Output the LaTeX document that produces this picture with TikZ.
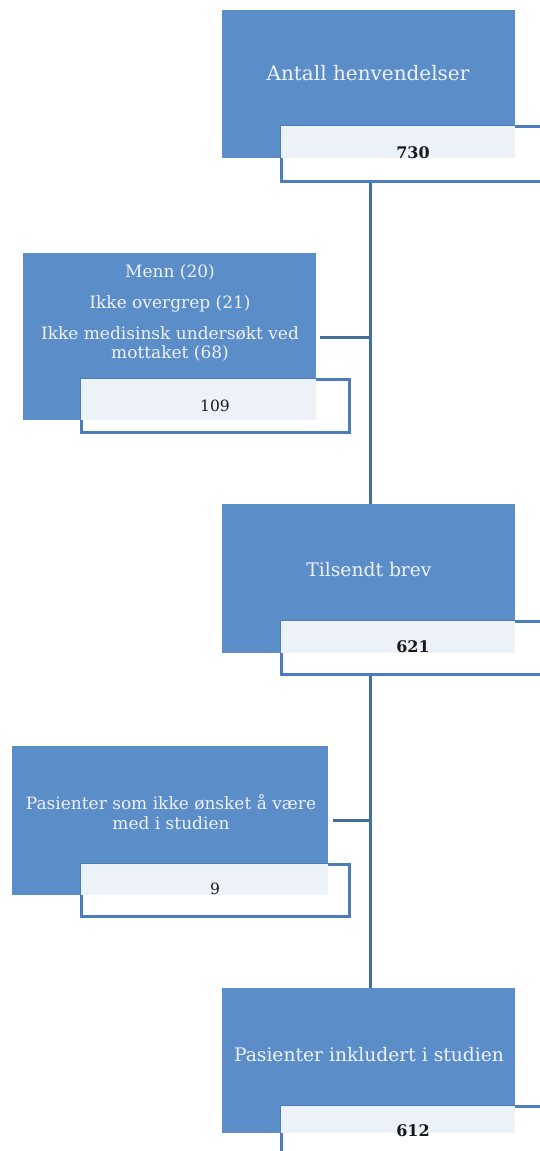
\documentclass[tikz,border=0pt]{standalone}
\usepackage{fontspec}
\setmainfont{DejaVu Serif}
\definecolor{boxblue}{HTML}{5B8DC8}
\definecolor{edgeblue}{HTML}{4A7DBA}
\definecolor{lineblue}{HTML}{41709C}
\definecolor{paleblue}{HTML}{EDF1F8}
\definecolor{txtwhite}{HTML}{EEF2F8}
\definecolor{numtxt}{HTML}{1A1A1A}
\begin{document}
\begin{tikzpicture}[x=1pt,y=-1pt,
  bluebox/.style={fill=boxblue, draw=none, anchor=north west, inner sep=0pt},
  countbox/.style={fill=white, draw=edgeblue, line width=2.5pt, anchor=north west, inner sep=0pt},
  title/.style={text=txtwhite, align=center, inner sep=0pt},
  num/.style={text=numtxt, inner sep=0pt},
  conn/.style={draw=lineblue, line width=3pt}]
\useasboundingbox (0,0) rectangle (540,1151);
\clip (0,0) rectangle (540,1151);
\coordinate (trunk) at (370,0);
% box 1
\node[bluebox, minimum width=293pt, minimum height=148pt] (b1) at (222,10) {};
\node[countbox, minimum width=300pt, minimum height=55pt] (w1) at (280,125) {};
\fill[paleblue] ([shift={(1.3pt,-1.3pt)}]w1.north west) rectangle (b1.south east);
\node[title, font=\fontsize{20}{24}\selectfont] (t1) at (368,73) {Antall henvendelser};
\node[num, font=\bfseries\fontsize{16}{19}\selectfont] (n1) at (413,153) {730};
% left box 1
\node[bluebox, minimum width=293pt, minimum height=167pt] (l1) at (23,253) {};
\node[countbox, minimum width=268pt, minimum height=53pt] (lw1) at (80,378) {};
\fill[paleblue] ([shift={(1.3pt,-1.3pt)}]lw1.north west) rectangle (l1.south east);
\node[title, font=\fontsize{17}{19}\selectfont] (lt1) at (170,312.5) {Menn (20)\\[12pt]Ikke overgrep (21)\\[12pt]Ikke medisinsk undersøkt ved\\mottaket (68)};
\node[num, font=\fontsize{15.5}{18}\selectfont] (ln1) at (215,406) {109};
% box 2
\node[bluebox, minimum width=293pt, minimum height=149pt] (b2) at (222,504) {};
\node[countbox, minimum width=300pt, minimum height=53pt] (w2) at (280,620) {};
\fill[paleblue] ([shift={(1.3pt,-1.3pt)}]w2.north west) rectangle (b2.south east);
\node[title, font=\fontsize{18.7}{22}\selectfont] (t2) at (369,570) {Tilsendt brev};
\node[num, font=\bfseries\fontsize{16}{19}\selectfont] (n2) at (413,647) {621};
% left box 2
\node[bluebox, minimum width=316pt, minimum height=149pt] (l2) at (12,746) {};
\node[countbox, minimum width=268pt, minimum height=52pt] (lw2) at (80,863) {};
\fill[paleblue] ([shift={(1.3pt,-1.3pt)}]lw2.north west) rectangle (l2.south east);
\node[title, font=\fontsize{17}{20}\selectfont] (lt2) at (171,812) {Pasienter som ikke ønsket å være\\med i studien};
\node[num, font=\fontsize{15.5}{18}\selectfont] (ln2) at (215,889) {9};
% box 3
\node[bluebox, minimum width=293pt, minimum height=145pt] (b3) at (222,988) {};
\node[countbox, minimum width=300pt, minimum height=60pt] (w3) at (280,1105) {};
\fill[paleblue] ([shift={(1.3pt,-1.3pt)}]w3.north west) rectangle (b3.south east);
\node[title, font=\fontsize{18.7}{22}\selectfont] (t3) at (369,1055) {Pasienter inkludert i studien};
\node[num, font=\bfseries\fontsize{16}{19}\selectfont] (n3) at (413,1131) {612};
% connectors
\draw[conn] (w1.south -| trunk) -- (b2.north -| trunk);
\draw[conn] (w2.south -| trunk) -- (b3.north -| trunk);
\draw[conn] ([xshift=4pt]l1.east |- 0,337) -- (trunk |- 0,337);
\draw[conn] ([xshift=5pt]l2.east |- 0,820) -- (trunk |- 0,820);
\end{tikzpicture}
\end{document}
